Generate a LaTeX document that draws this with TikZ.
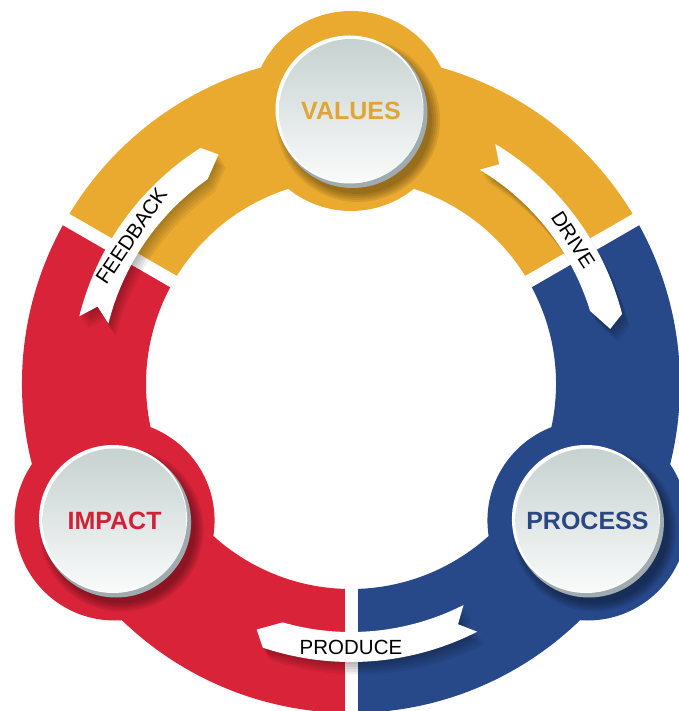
\documentclass[tikz,border=0pt]{standalone}
\usepackage{fontspec}
\setmainfont{Liberation Sans}
\usetikzlibrary{calc}
\definecolor{cyel}{HTML}{E9AA2F}
\definecolor{cred}{HTML}{D92339}
\definecolor{cblu}{HTML}{274889}
\definecolor{tyel}{HTML}{E0A533}
\definecolor{tred}{HTML}{CF2237}
\definecolor{tblu}{HTML}{2A4683}
\definecolor{facetop}{HTML}{C6D2D0}
\definecolor{facebot}{HTML}{FAFBFB}
\definecolor{rimgray}{HTML}{9FABAE}
\newcommand{\ribbonpath}[3]{(#1:#3+15) arc[start angle=#1, end angle=#2+2.5, radius=#3+15] -- (#2:#3) -- (#2+5:#3-15) arc[start angle=#2+5, end angle=#1, radius=#3-15] -- (#1-3:#3) -- cycle}
\newcommand{\sectorpath}[2]{(#1:329) arc[start angle=#1, end angle=#2, radius=329] -- (#2:205) arc[start angle=#2, end angle=#1, radius=205] -- cycle}
\begin{document}
\begin{tikzpicture}[x=1pt,y=1pt,
  bubble/.style={circle, minimum size=144pt, inner sep=0pt, top color=facetop, bottom color=facebot, font=\fontsize{25}{30}\selectfont\bfseries},
  rtext/.style={font=\fontsize{20.5}{24}\selectfont, text=black, inner sep=0pt}]
\useasboundingbox (-351,-327) rectangle (327,384);
% ring segments with bumps
\fill[cyel] \sectorpath{30}{150};
\fill[cyel] (90:273) circle (100);
\fill[cred] \sectorpath{150}{270};
\fill[cred] (210:273) circle (100);
\fill[cblu] \sectorpath{270}{390};
\fill[cblu] (330:273) circle (100);
% gaps
\foreach \a in {30,150,270} \draw[white, line width=13pt] (\a:180) -- (\a:350);
% circle shadows and rims
\foreach \a in {90,210,330} {
  \foreach \k in {0,1,2,3,4} \fill[black, opacity=0.08] ($(\a:273)+(7,-9)$) circle (74+\k*2);
  \fill[rimgray] ($(\a:273)+(1.5,-2)$) circle (75);
  \fill[white] ($(\a:273)+(-1.5,1.5)$) circle (74);
}
\node[bubble, text=tyel] (values) at (90:273) {VALUES};
\node[bubble, text=tred] (impact) at (210:273) {IMPACT};
\node[bubble, text=tblu] (process) at (330:273) {PROCESS};
% ribbons
\foreach \t/\h/\r in {59/12/265, 166/120/265, 297/249/263} {
  \foreach \k in {1,2,3,4,5} \fill[black, opacity=0.06, shift={(\k*1.5,-\k*2.5)}] \ribbonpath{\t}{\h}{\r};
  \fill[white] \ribbonpath{\t}{\h}{\r};
}
\node[rtext, rotate=-57] (drive) at (33:265) {DRIVE};
\node[rtext, rotate=56] (feedback) at (146:265) {FEEDBACK};
\node[rtext] (produce) at (270:263) {PRODUCE};
\end{tikzpicture}
\end{document}
